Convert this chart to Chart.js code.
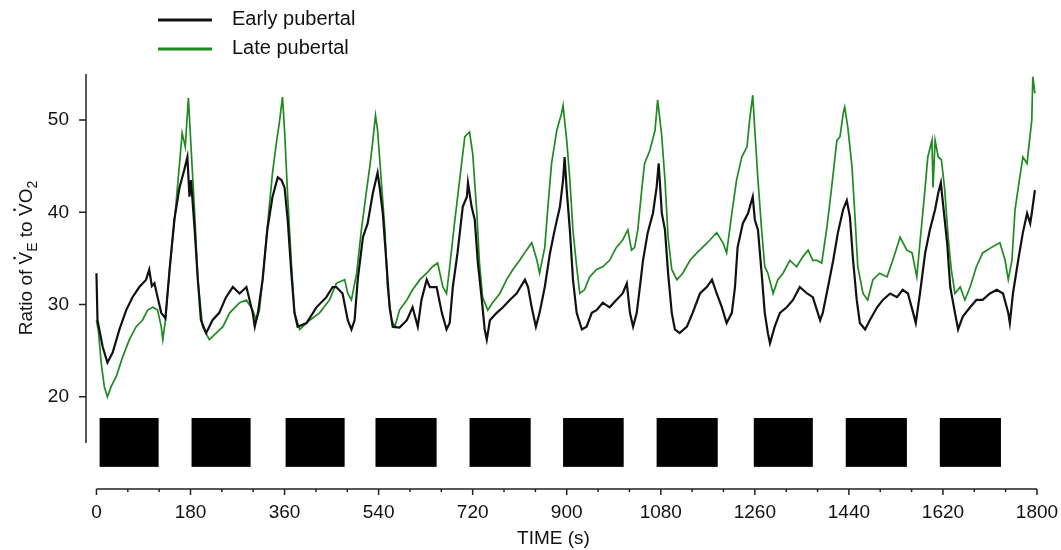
<!DOCTYPE html>
<html>
<head>
<meta charset="utf-8">
<title>Ratio of VE to VO2</title>
<script src="https://cdn.jsdelivr.net/npm/chart.js@4.4.1/dist/chart.umd.min.js"></script>
<style>
  html, body { margin: 0; padding: 0; background: #fff; }
  #wrap { width: 1061px; height: 550px; }
</style>
</head>
<body>
<div id="wrap"><canvas id="myChart" width="1061" height="550"></canvas></div>
<script>
"use strict";

// time (s) and ratio readings, early pubertal group (black trace)
const earlyTime = [0, 2, 12, 21, 31, 44, 57, 69, 82, 95, 101, 106, 111, 117, 124, 132, 140, 149, 159, 168, 174, 178, 181, 188, 194,
    200, 210, 222, 235, 248, 261, 274, 287, 299, 303, 309, 318, 327, 337, 347, 354, 360, 366, 373, 379, 385, 402, 421, 440, 452,
    459, 471, 481, 488, 494, 500, 510, 519, 529, 538, 542, 548, 555, 561, 567, 580, 594, 605, 615, 622, 632, 638, 651, 661, 670,
    676, 682, 691, 701, 709, 711, 718, 724, 730, 737, 743, 747, 753, 766, 778, 791, 804, 820, 826, 833, 841, 848, 858, 868, 877,
    887, 893, 896, 900, 906, 912, 919, 929, 938, 948, 957, 969, 982, 995, 1007, 1015, 1021, 1027, 1034, 1040, 1046, 1055, 1065,
    1072, 1076, 1082, 1088, 1094, 1101, 1107, 1116, 1130, 1141, 1155, 1168, 1178, 1187, 1197, 1206, 1216, 1222, 1227, 1237, 1247,
    1256, 1260, 1266, 1273, 1279, 1285, 1289, 1298, 1308, 1321, 1333, 1346, 1360, 1371, 1385, 1390, 1400, 1410, 1419, 1429, 1436,
    1442, 1448, 1455, 1461, 1471, 1480, 1494, 1505, 1519, 1532, 1543, 1553, 1563, 1568, 1576, 1586, 1595, 1605, 1611, 1616, 1620,
    1628, 1634, 1643, 1649, 1658, 1672, 1684, 1696, 1710, 1723, 1735, 1745, 1748, 1754, 1764, 1773, 1781, 1787, 1790, 1796];
const earlyRatio = [33.4, 28.3, 25.4, 23.7, 24.8, 27.3, 29.4, 30.8, 31.9, 32.7, 33.8, 32.0, 32.3, 30.8, 29.1, 28.5, 33.8, 39.2, 42.7, 44.6, 46.0, 41.7, 43.5, 38.1, 32.7,
    28.3, 26.9, 28.3, 29.1, 30.8, 31.9, 31.2, 31.9, 29.1, 27.6, 29.1, 32.7, 38.1, 41.7, 43.8, 43.5, 42.7, 39.2, 33.4, 29.1, 27.6, 28.0, 29.7, 30.8, 31.9,
    31.9, 31.2, 28.3, 27.3, 28.3, 32.7, 37.3, 38.8, 42.1, 44.3, 42.7, 39.9, 34.5, 29.7, 27.6, 27.5, 28.3, 29.7, 27.6, 30.5, 32.7, 31.9, 31.9, 29.1, 27.3,
    28.0, 31.9, 35.6, 40.6, 41.7, 43.2, 40.6, 39.2, 34.5, 30.8, 27.3, 26.2, 28.3, 29.1, 29.7, 30.5, 31.2, 32.7, 31.9, 29.7, 27.6, 29.1, 31.9, 35.6, 38.1,
    40.6, 43.5, 46.0, 42.4, 38.1, 32.7, 29.1, 27.3, 27.6, 29.1, 29.4, 30.2, 29.7, 30.5, 31.2, 32.3, 29.1, 27.6, 29.1, 31.9, 34.8, 37.8, 39.9,
    42.7, 45.3, 39.9, 38.1, 33.4, 29.1, 27.3, 26.9, 27.6, 29.1, 31.2, 31.9, 32.7, 31.2, 29.7, 28.0, 29.1, 31.9, 36.2, 38.8, 39.9,
    41.7, 39.2, 38.1, 33.4, 29.1, 26.9, 25.8, 27.6, 29.1, 29.7, 30.5, 31.9, 31.2, 30.8, 28.3, 29.1, 31.9, 34.8, 37.8, 40.3, 41.3,
    39.5, 34.8, 30.5, 28.0, 27.3, 28.3, 29.7, 30.5, 31.2, 30.8, 31.6, 31.2, 29.1, 28.0, 31.2, 35.6, 38.1, 40.3, 42.1, 43.2, 41.0,
    36.7, 31.9, 29.1, 27.3, 28.7, 29.7, 30.5, 30.5, 31.2, 31.6, 31.2, 29.1, 28.0, 31.2, 34.8, 37.8, 39.9, 38.8, 39.9, 42.4];

// time (s) and ratio readings, late pubertal group (green trace)
const lateTime = [0, 4, 9, 15, 21, 28, 38, 50, 63, 76, 88, 98, 108, 117, 124, 127, 132, 140, 149, 159, 164, 170, 176, 181, 188,
    194, 203, 216, 229, 242, 255, 274, 287, 299, 306, 312, 318, 327, 337, 345, 350, 356, 360, 366, 373, 379, 389, 408, 427, 446,
    459, 475, 481, 488, 498, 507, 517, 523, 529, 534, 538, 545, 552, 557, 565, 571, 580, 594, 605, 619, 632, 643, 653, 663, 670,
    676, 686, 695, 705, 714, 720, 728, 733, 739, 749, 758, 772, 785, 797, 810, 823, 833, 843, 848, 858, 864, 871, 881, 890, 893,
    900, 906, 912, 919, 925, 934, 944, 957, 969, 982, 995, 1007, 1017, 1024, 1030, 1036, 1044, 1049, 1059, 1069, 1074, 1082, 1088,
    1094, 1101, 1111, 1122, 1136, 1149, 1160, 1174, 1187, 1199, 1206, 1216, 1225, 1235, 1245, 1250, 1256, 1260, 1266, 1273, 1279,
    1285, 1295, 1304, 1314, 1327, 1340, 1352, 1362, 1371, 1379, 1388, 1398, 1407, 1417, 1423, 1429, 1432, 1438, 1446, 1452, 1457,
    1467, 1476, 1486, 1499, 1513, 1524, 1538, 1551, 1561, 1570, 1576, 1586, 1591, 1599, 1601, 1605, 1611, 1617, 1623, 1630, 1636,
    1643, 1653, 1662, 1672, 1684, 1696, 1713, 1729, 1739, 1745, 1752, 1758, 1767, 1773, 1781, 1783, 1790, 1792, 1796];
const lateRatio = [28.3, 27.0, 23.7, 21.1, 20.0, 21.1, 22.2, 24.3, 26.2, 27.6, 28.3, 29.4, 29.7, 29.4, 27.6, 26.2, 28.3, 33.8, 38.8, 45.3, 48.6, 47.1, 52.4, 47.1, 39.9,
    32.7, 27.6, 26.2, 26.9, 27.6, 29.1, 30.2, 30.5, 29.4, 28.3, 29.4, 32.7, 38.4, 44.3, 47.8, 49.7, 52.5, 48.9, 41.7, 34.5, 29.1, 27.3, 28.3, 29.1, 30.5,
    32.3, 32.7, 31.2, 30.5, 33.4, 38.1, 42.4, 44.9, 47.8, 50.5, 48.9, 43.5, 38.1, 31.9, 28.3, 27.6, 29.4, 30.5, 31.6, 32.7, 33.4, 34.1, 34.5, 31.9, 31.2,
    34.1, 39.2, 43.5, 48.2, 48.7, 46.4, 39.9, 34.5, 30.8, 29.4, 30.2, 31.2, 32.7, 33.8, 34.8, 35.9, 36.7, 34.8, 33.4, 36.2, 40.6, 45.3, 48.9, 50.7, 51.6,
    47.8, 43.5, 38.0, 34.1, 31.2, 31.6, 33.0, 33.8, 34.1, 34.8, 36.2, 37.0, 38.1, 35.9, 36.2, 38.1, 42.7, 45.3, 46.7, 48.9, 52.2, 48.2, 43.5,
    37.3, 33.8, 32.7, 33.4, 34.8, 35.6, 36.2, 37.0, 37.8, 36.7, 35.6, 39.9, 43.5, 46.0, 47.1, 50.0, 52.7, 48.9, 43.5, 38.1, 34.1,
    33.4, 31.2, 32.7, 33.4, 34.8, 34.1, 35.2, 35.9, 34.8, 34.8, 34.5, 38.4, 42.7, 47.8, 48.2, 50.7, 51.4, 49.2, 44.9, 39.2, 34.1,
    31.2, 30.5, 32.7, 33.4, 33.0, 34.8, 37.3, 35.9, 35.6, 33.0, 36.7, 42.7, 46.0, 47.8, 42.7, 47.8, 46.0, 45.7, 42.7, 37.3, 33.8,
    31.2, 31.9, 30.5, 31.9, 34.1, 35.6, 36.2, 36.7, 34.8, 32.7, 34.8, 40.3, 43.8, 46.0, 45.3, 46.4, 50.0, 54.7, 52.9];

// exercise bouts (black blocks under the traces)
const boutStart = [6, 182, 362, 534, 714, 893, 1072, 1258, 1434, 1614];
const boutEnd = [119, 295, 475, 651, 831, 1009, 1189, 1371, 1551, 1731];
const boutLow = 12.4;
const boutHigh = 17.7;

const xTicks = [0, 180, 360, 540, 720, 900, 1080, 1260, 1440, 1620, 1800];
const yTicks = [20, 30, 40, 50];

const FONT = "'Liberation Sans', Arial, sans-serif";
const GREEN = "#1f8a1f";

let extras = {
    id: "extras",
    beforeDatasetsDraw: function (chart) {
        let c = chart.ctx, x = chart.scales.x, y = chart.scales.y;
        c.save();
        c.fillStyle = "#000";
        for (let i = 0; i < boutStart.length; i++) {
            let x0 = x.getPixelForValue(boutStart[i]);
            let x1 = x.getPixelForValue(boutEnd[i]);
            let y0 = y.getPixelForValue(boutHigh);
            let y1 = y.getPixelForValue(boutLow);
            c.fillRect(x0, y0, x1 - x0, y1 - y0);
        }
        c.restore();
    },
    afterDraw: function (chart) {
        let c = chart.ctx, x = chart.scales.x, y = chart.scales.y, area = chart.chartArea;
        c.save();
        c.strokeStyle = "#222";
        c.lineWidth = 1.5;

        // y axis line, stops above the bout blocks
        c.beginPath();
        c.moveTo(area.left, area.top);
        c.lineTo(area.left, y.getPixelForValue(15));
        for (let v of yTicks) {
            let py = y.getPixelForValue(v);
            c.moveTo(area.left - 7, py);
            c.lineTo(area.left, py);
        }
        c.stroke();

        // x axis line with major and minor ticks
        let yb = area.bottom;
        c.beginPath();
        c.moveTo(x.getPixelForValue(0), yb);
        c.lineTo(x.getPixelForValue(1800), yb);
        for (let t = 0; t <= 1800; t += 60) {
            let px = x.getPixelForValue(t);
            c.moveTo(px, yb);
            c.lineTo(px, yb + (t % 180 === 0 ? 6 : 3));
        }
        c.stroke();

        // x title
        c.fillStyle = "#111";
        c.font = "19px " + FONT;
        c.textAlign = "center";
        c.textBaseline = "middle";
        c.fillText("TIME (s)", (area.left + area.right) / 2 - 8, 539);

        // y title: Ratio of V̇E to V̇O2
        c.translate(25, 258);
        c.rotate(-Math.PI / 2);
        let big = "19px " + FONT, small = "14px " + FONT;
        let parts = [
            { t: "Ratio of ", f: big, dy: 0 },
            { t: "V", f: big, dy: 0, dot: true },
            { t: "E", f: small, dy: 5 },
            { t: " to ", f: big, dy: 0 },
            { t: "V", f: big, dy: 0, dot: true },
            { t: "O", f: big, dy: 0 },
            { t: "2", f: small, dy: 5 }
        ];
        let total = 0;
        for (let p of parts) { c.font = p.f; p.w = c.measureText(p.t).width; total += p.w; }
        let cx = -total / 2;
        c.textAlign = "left";
        c.textBaseline = "alphabetic";
        for (let p of parts) {
            c.font = p.f;
            c.fillText(p.t, cx, 7 + p.dy);
            if (p.dot) {
                c.beginPath();
                c.arc(cx + p.w / 2, -10.5, 1.3, 0, Math.PI * 2);
                c.fill();
            }
            cx += p.w;
        }
        c.restore();

        // legend
        c.save();
        c.lineWidth = 3;
        c.strokeStyle = "#111";
        c.beginPath(); c.moveTo(158, 20); c.lineTo(212, 20); c.stroke();
        c.strokeStyle = GREEN;
        c.beginPath(); c.moveTo(158, 49); c.lineTo(212, 49); c.stroke();
        c.fillStyle = "#111";
        c.font = "20px " + FONT;
        c.textAlign = "left";
        c.textBaseline = "middle";
        c.fillText(chart.data.datasets[0].label, 232, 19);
        c.fillText(chart.data.datasets[1].label, 232, 48);
        c.restore();
    }
};

let chart = new Chart(document.getElementById("myChart"), {
    type: "line",
    data: {
        datasets: [
            {
                label: "Early pubertal",
                data: earlyTime.map(function (t, i) { return { x: t, y: earlyRatio[i] }; }),
                borderColor: "#111",
                borderWidth: 2.2,
                pointRadius: 0,
                tension: 0
            },
            {
                label: "Late pubertal",
                data: lateTime.map(function (t, i) { return { x: t, y: lateRatio[i] }; }),
                borderColor: GREEN,
                borderWidth: 1.7,
                pointRadius: 0,
                tension: 0
            }
        ]
    },
    options: {
        responsive: false,
        animation: false,
        layout: { padding: { left: 0, right: 24, top: 74, bottom: 0 } },
        plugins: { legend: { display: false }, tooltip: { enabled: false } },
        scales: {
            x: {
                type: "linear",
                min: -20,
                max: 1800,
                afterBuildTicks: function (axis) { axis.ticks = xTicks.map(function (v) { return { value: v }; }); },
                afterFit: function (axis) {
                    axis.height = 61;
                    axis.paddingLeft = 0;
                    axis.paddingRight = 0;
                },
                grid: { display: false, tickLength: 6 },
                border: { display: false },
                ticks: {
                    color: "#111", font: { family: FONT, size: 19 }, padding: 6, maxRotation: 0, autoSkip: false,
                    callback: function (v) { return String(v); }
                }
            },
            y: {
                min: 10,
                max: 55,
                afterBuildTicks: function (axis) { axis.ticks = yTicks.map(function (v) { return { value: v }; }); },
                afterFit: function (axis) { axis.width = 86; },
                grid: { display: false, tickLength: 7 },
                border: { display: false },
                ticks: { color: "#111", font: { family: FONT, size: 19 }, padding: 10 }
            }
        }
    },
    plugins: [extras]
});
</script>
</body>
</html>
